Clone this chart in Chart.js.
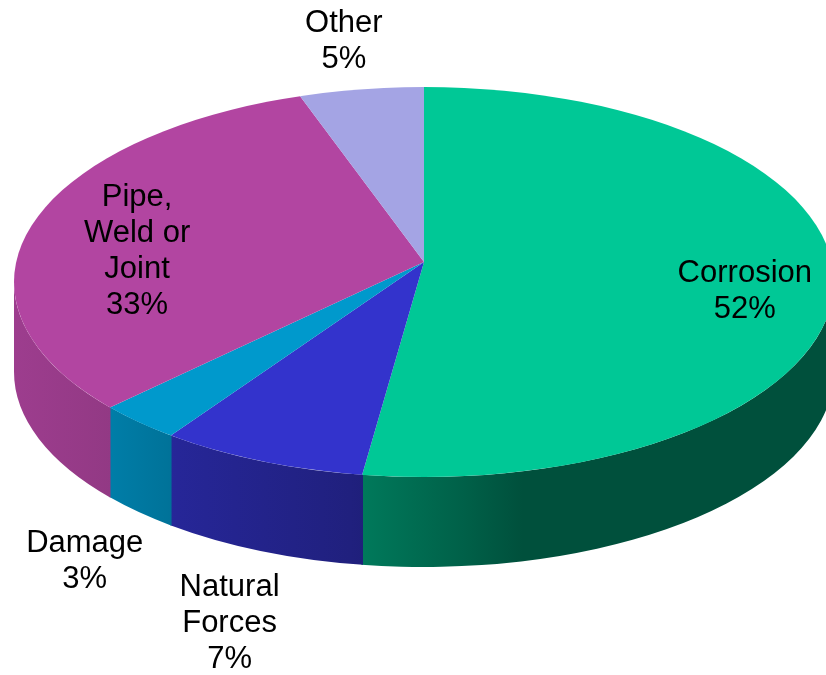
<!DOCTYPE html>
<html>
<head>
<meta charset="utf-8">
<script src="https://cdn.jsdelivr.net/npm/chart.js@4.4.1/dist/chart.umd.min.js"></script>
<style>
  html, body { margin: 0; padding: 0; background: #fff; }
  #wrap { width: 826px; height: 675px; }
</style>
</head>
<body>
<div id="wrap"><canvas id="pie"></canvas></div>
<script>
// ------------------------------------------------------------
// Data: pipeline incident causes (share of total, %)
// ------------------------------------------------------------
const categories = [['Corrosion'], ['Natural', 'Forces'], ['Damage'], ['Pipe,', 'Weld or', 'Joint'], ['Other']];
const shares = [52, 7, 3, 33, 5];
const sliceColors = ['#00C896', '#3333CC', '#0099CC', '#B245A1', '#A4A4E4'];

// light falling from the left on the side wall: [position across pie, brightness]
const sideLight = [[0, 0.88], [0.12, 0.82], [0.2, 0.74], [0.41, 0.62], [0.55, 0.48], [0.62, 0.4], [1, 0.4]];

function shade(hex, f) {
  const n = parseInt(hex.slice(1), 16);
  const r = Math.round(((n >> 16) & 255) * f);
  const g = Math.round(((n >> 8) & 255) * f);
  const b = Math.round((n & 255) * f);
  return `rgb(${r},${g},${b})`;
}

// Where a slice edge (angle theta of the flat pie) meets the rim.
// The seams start at the apex, which sits a bit above the rim's
// centre (perspective), so the rim angle differs from theta.
function rimAngle(theta, o) {
  const ux = o.spreadX * Math.cos(theta) / o.rx;
  const uy = o.spreadY * Math.sin(theta) / o.ry;
  const ox = (o.ax - o.cx) / o.rx;
  const oy = (o.ay - o.cy) / o.ry;
  const a = ux * ux + uy * uy;
  const b = 2 * (ox * ux + oy * uy);
  const c = ox * ox + oy * oy - 1;
  const t = (-b + Math.sqrt(b * b - 4 * a * c)) / (2 * a);
  let phi = Math.atan2(oy + t * uy, ox + t * ux);
  while (phi < theta - Math.PI) phi += 2 * Math.PI;
  while (phi > theta + Math.PI) phi -= 2 * Math.PI;
  return phi;
}

// ------------------------------------------------------------
// Fake 3D: side walls first, then the flat pie squashed into
// the top face (clipped to the rim), then the labels
// ------------------------------------------------------------
const pie3d = {
  id: 'pie3d',
  beforeDatasetsDraw(chart, args, opts) {
    const ctx = chart.ctx;
    const arcs = chart.getDatasetMeta(0).data;
    if (!arcs.length) return;
    const { cx, cy, rx, ry, depth } = opts;
    const colors = chart.data.datasets[0].backgroundColor;

    // only the front half (0..PI) of the rim shows a wall
    arcs.forEach((arc, i) => {
      const a0 = Math.max(rimAngle(arc.startAngle, opts), 0);
      const a1 = Math.min(rimAngle(arc.endAngle, opts), Math.PI);
      if (a1 <= a0) return;
      const grad = ctx.createLinearGradient(cx - rx, 0, cx + rx, 0);
      sideLight.forEach(([t, f]) => grad.addColorStop(t, shade(colors[i], f)));
      ctx.beginPath();
      ctx.ellipse(cx, cy, rx, ry, 0, a0 - 0.002, a1 + 0.002);
      ctx.ellipse(cx, cy + depth, rx, ry, 0, a1 + 0.002, a0 - 0.002, true);
      ctx.closePath();
      ctx.fillStyle = grad;
      ctx.fill();
    });

    const { x, y, outerRadius } = arcs[0];
    ctx.save();
    ctx.beginPath();
    ctx.ellipse(cx, cy, rx, ry, 0, 0, Math.PI * 2);
    ctx.clip();
    ctx.translate(opts.ax, opts.ay);
    ctx.scale(opts.spreadX / outerRadius, opts.spreadY / outerRadius);
    ctx.translate(-x, -y);
  },
  afterDatasetsDraw(chart) {
    chart.ctx.restore();
  },
  afterDraw(chart, args, opts) {
    const ctx = chart.ctx;
    const arcs = chart.getDatasetMeta(0).data;
    const { cx, cy, rx, ry, depth, labelRadius, lineHeight } = opts;
    ctx.save();
    ctx.font = '31px "Liberation Sans", Arial, sans-serif';
    ctx.fillStyle = '#000';
    ctx.textAlign = 'center';
    ctx.textBaseline = 'middle';
    arcs.forEach((arc, i) => {
      const mid = (arc.startAngle + arc.endAngle) / 2;
      const k = labelRadius[i];
      const s = Math.sin(mid);
      const px = cx + k * rx * Math.cos(mid);
      // labels outside the front edge sit below the side wall
      const py = cy + k * ry * s + (k > 1 && s > 0 ? depth * s : 0);
      const lines = chart.data.labels[i].concat(chart.data.datasets[0].data[i] + '%');
      const top = py - (lines.length - 1) * lineHeight / 2;
      lines.forEach((t, j) => ctx.fillText(t, px, top + j * lineHeight));
    });
    ctx.restore();
  }
};

new Chart(document.getElementById('pie'), {
  type: 'pie',
  data: {
    labels: categories,
    datasets: [{
      data: shares,
      backgroundColor: sliceColors,
      borderWidth: 0,
      clip: false
    }]
  },
  options: {
    responsive: true,
    maintainAspectRatio: false,
    animation: false,
    events: [],
    plugins: {
      legend: { display: false },
      tooltip: { enabled: false },
      pie3d: {
        cx: 424, cy: 282, rx: 410, ry: 195, depth: 90,
        ax: 424, ay: 262, spreadX: 529, spreadY: 230,
        labelRadius: [0.784, 1.40, 1.35, 0.717, 1.25],
        lineHeight: 36
      }
    }
  },
  plugins: [pie3d]
});
</script>
</body>
</html>
